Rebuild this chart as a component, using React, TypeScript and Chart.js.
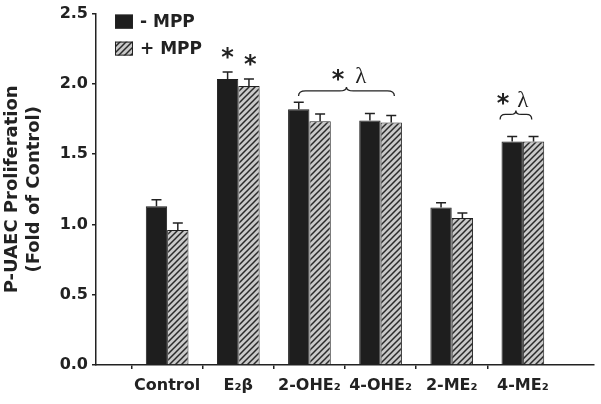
import React, { useEffect, useRef } from 'react';
import { Chart, registerables } from 'chart.js';

Chart.register(...registerables);

// ---- data ----
const categories = ['Control', 'E₂β', '2-OHE₂', '4-OHE₂', '2-ME₂', '4-ME₂'];
const minusMPP = [1.13, 2.035, 1.82, 1.74, 1.12, 1.59];
const minusErr = [0.045, 0.05, 0.05, 0.05, 0.035, 0.035];
const plusMPP = [0.96, 1.985, 1.735, 1.725, 1.045, 1.59];
const plusErr = [0.05, 0.05, 0.05, 0.05, 0.037, 0.035];
const seriesNames = ['- MPP', '+ MPP'];
const yMin = 0;
const yMax = 2.5;
const yStep = 0.5;

// significance marks (x in category index units, y in data units)
const starMarks = [
  { x: 0.847, y: 2.218, text: '*' },
  { x: 1.167, y: 2.172, text: '*' },
];
const braceMarks = [
  { x1: 1.847, x2: 3.194, y: 1.95, starX: 2.403, lambdaX: 2.722, textY: 2.066 },
  { x1: 4.68, x2: 5.125, y: 1.783, starX: 4.722, lambdaX: 5.0, textY: 1.893 },
];

const FONT = '"DejaVu Sans", "Liberation Sans", sans-serif';
const INK = '#222222';

function makeHatch(): CanvasPattern | string {
  const c = document.createElement('canvas');
  const s = 6;
  c.width = s;
  c.height = s;
  const g = c.getContext('2d');
  if (!g) return '#bbb';
  g.fillStyle = '#c9c9c9';
  g.fillRect(0, 0, s, s);
  g.strokeStyle = '#2a2a2a';
  g.lineWidth = 1.5;
  g.beginPath();
  g.moveTo(-1, s + 1);
  g.lineTo(s + 1, -1);
  g.moveTo(-1, 1);
  g.lineTo(1, -1);
  g.moveTo(s - 1, s + 1);
  g.lineTo(s + 1, s - 1);
  g.stroke();
  const p = g.createPattern(c, 'repeat');
  return p || '#bbb';
}

function drawCentered(ctx: CanvasRenderingContext2D, text: string, x: number, cy: number) {
  const m = ctx.measureText(text);
  const asc = m.actualBoundingBoxAscent;
  const desc = m.actualBoundingBoxDescent;
  ctx.textAlign = 'center';
  ctx.textBaseline = 'alphabetic';
  ctx.fillText(text, x, cy + (asc - desc) / 2);
}

export default function App() {
  const ref = useRef<HTMLCanvasElement | null>(null);

  useEffect(() => {
    if (!ref.current) return;
    const hatch = makeHatch();
    const labels = ['', ...categories, ''];
    const pad = (a: number[]) => [null, ...a, null];
    const errs = [minusErr, plusErr];

    const errorBars = {
      id: 'errorBars',
      afterDatasetsDraw(chart: any) {
        const ctx = chart.ctx;
        const ys = chart.scales.y;
        ctx.save();
        ctx.strokeStyle = INK;
        ctx.lineWidth = 1.5;
        chart.data.datasets.forEach((ds: any, d: number) => {
          const meta = chart.getDatasetMeta(d);
          meta.data.forEach((el: any, i: number) => {
            const v = ds.data[i];
            if (v == null) return;
            const e = errs[d][i - 1];
            const yTop = ys.getPixelForValue(v + e);
            ctx.beginPath();
            ctx.moveTo(el.x, el.y);
            ctx.lineTo(el.x, yTop);
            ctx.moveTo(el.x - 5, yTop);
            ctx.lineTo(el.x + 5, yTop);
            ctx.stroke();
          });
        });
        ctx.restore();
      },
    };

    const marks = {
      id: 'marks',
      afterDraw(chart: any) {
        const ctx = chart.ctx;
        const xs = chart.scales.x;
        const ys = chart.scales.y;
        const px = (v: number) => xs.getPixelForValue(v + 1);
        const py = (v: number) => ys.getPixelForValue(v);
        ctx.save();
        ctx.fillStyle = INK;
        ctx.font = `bold 24px ${FONT}`;
        starMarks.forEach((s) => drawCentered(ctx, s.text, px(s.x), py(s.y)));
        braceMarks.forEach((b) => {
          const x1 = px(b.x1);
          const x2 = px(b.x2);
          const xm = (x1 + x2) / 2;
          const y = py(b.y);
          const r = Math.min(7, (x2 - x1) / 6);
          ctx.strokeStyle = INK;
          ctx.lineWidth = 1.3;
          ctx.beginPath();
          ctx.moveTo(x1, y + 5);
          ctx.quadraticCurveTo(x1, y, x1 + r, y);
          ctx.lineTo(xm - r, y);
          ctx.quadraticCurveTo(xm, y, xm, y - 4);
          ctx.quadraticCurveTo(xm, y, xm + r, y);
          ctx.lineTo(x2 - r, y);
          ctx.quadraticCurveTo(x2, y, x2, y + 5);
          ctx.stroke();
          ctx.font = `bold 24px ${FONT}`;
          drawCentered(ctx, '*', px(b.starX), py(b.textY));
          ctx.font = `23px "Liberation Serif", "DejaVu Serif", serif`;
          drawCentered(ctx, 'λ', px(b.lambdaX), py(b.textY));
        });

        // legend
        const L = chart.chartArea.left + 19;
        const T = chart.chartArea.top + 1;
        const fills = ['#1e1e1e', hatch];
        ctx.font = `bold 17px ${FONT}`;
        seriesNames.forEach((name, k) => {
          const top = T + k * 27;
          ctx.fillStyle = fills[k] as any;
          ctx.fillRect(L, top, 18, 14);
          ctx.strokeStyle = INK;
          ctx.lineWidth = 1;
          ctx.strokeRect(L + 0.5, top + 0.5, 17, 13);
          ctx.fillStyle = INK;
          ctx.textAlign = 'left';
          ctx.textBaseline = 'middle';
          ctx.fillText(name, L + 25, top + 7.5);
        });
        ctx.restore();
      },
    };

    const chart = new Chart(ref.current, {
      type: 'bar',
      data: {
        labels,
        datasets: [
          {
            label: seriesNames[0],
            data: pad(minusMPP) as any,
            backgroundColor: '#1e1e1e',
            borderColor: '#1e1e1e',
            borderWidth: 1,
            categoryPercentage: 0.6,
            barPercentage: 1.0,
          },
          {
            label: seriesNames[1],
            data: pad(plusMPP) as any,
            backgroundColor: hatch as any,
            borderColor: INK,
            borderWidth: 1,
            categoryPercentage: 0.6,
            barPercentage: 1.0,
          },
        ],
      },
      options: {
        animation: false,
        responsive: true,
        maintainAspectRatio: false,
        layout: { padding: { top: 11, right: 1, left: 0, bottom: 0 } },
        plugins: {
          legend: { display: false },
          tooltip: { enabled: false },
        },
        scales: {
          x: {
            type: 'category',
            offset: false,
            grid: {
              display: true,
              drawOnChartArea: false,
              drawTicks: true,
              tickLength: 4,
              lineWidth: 1.5,
              color: (c: any) =>
                c.index === 0 || c.index === labels.length - 1 ? 'rgba(0,0,0,0)' : INK,
            },
            border: { display: true, color: INK, width: 1.5 },
            ticks: {
              font: { family: FONT, size: 16, weight: 'bold' },
              color: INK,
              padding: 7,
              maxRotation: 0,
              autoSkip: false,
            },
            afterFit: (s: any) => {
              s.height = 39;
            },
          },
          y: {
            min: yMin,
            max: yMax,
            grid: {
              display: true,
              drawOnChartArea: false,
              drawTicks: true,
              tickLength: 4,
              lineWidth: 1.5,
              color: INK,
            },
            border: { display: true, color: INK, width: 1.5 },
            ticks: {
              stepSize: yStep,
              font: { family: FONT, size: 16, weight: 'bold' },
              color: INK,
              padding: 4,
              callback: (v: any) => Number(v).toFixed(1),
            },
            title: {
              display: true,
              text: ['P-UAEC Proliferation', '(Fold of Control)'],
              font: { family: FONT, size: 18, weight: 'bold', lineHeight: 1.22 },
              color: INK,
              padding: { top: 1, bottom: 0 },
            },
            afterFit: (s: any) => {
              s.width = 96;
            },
          },
        },
      },
      plugins: [errorBars, marks],
    });
    return () => chart.destroy();
  }, []);

  return (
    <div style={{ position: 'fixed', left: 0, top: 0, width: 601, height: 404, background: '#fff' }}>
      <canvas ref={ref} />
    </div>
  );
}
